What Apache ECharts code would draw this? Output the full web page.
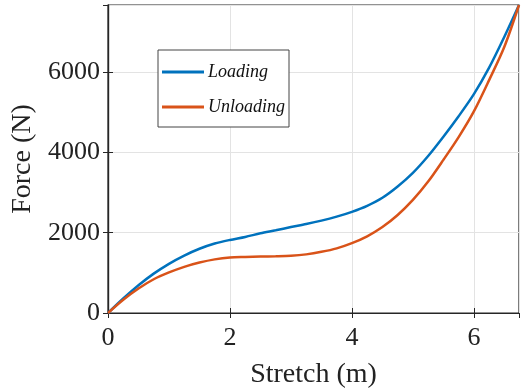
<!DOCTYPE html>
<html>
<head>
<meta charset="utf-8">
<script src="https://cdn.jsdelivr.net/npm/echarts@6/dist/echarts.min.js"></script>
<style>
  html, body { margin: 0; padding: 0; background: #fff; }
  #chart { width: 521px; height: 389px; }
</style>
</head>
<body>
<div id="chart"></div>
<script>
// stretch values (m)
var stretch = [0, 0.25, 0.5, 0.75, 1, 1.25, 1.5, 1.75, 2, 2.25, 2.5, 2.75, 3, 3.25, 3.5,
  3.75, 4, 4.25, 4.5, 4.75, 5, 5.25, 5.5, 5.75, 6, 6.25, 6.5, 6.74];
// force readings (N)
var loading = [0, 360, 690, 980, 1225, 1430, 1600, 1730, 1820, 1895, 1985, 2060, 2140, 2215, 2300,
  2400, 2520, 2670, 2870, 3150, 3490, 3910, 4390, 4900, 5450, 6110, 6880, 7670];
var unloading = [0, 330, 610, 840, 1010, 1150, 1256, 1335, 1382, 1395, 1405, 1412, 1425, 1460, 1523,
  1610, 1740, 1910, 2140, 2440, 2815, 3272, 3813, 4380, 5020, 5800, 6630, 7670];

var xTicks = { min: 0, max: 6.74, step: 2 };
var yTicks = { min: 0, max: 7670, step: 2000 };

var axisColor = "#262626";
var serif = "Liberation Serif";

function pairs(xs, ys) {
  return xs.map(function (x, i) { return [x, ys[i]]; });
}

var myChart = echarts.init(document.getElementById("chart"), null, { renderer: "canvas" });

var option = {
  animation: false,
  grid: {
    left: 108, right: 2, top: 5, bottom: 76,
    outerBoundsMode: "none",
    show: true, borderColor: axisColor, borderWidth: 1.2
  },
  legend: {
    orient: "vertical",
    left: 158,
    top: 50,
    padding: [13, 4, 11, 4],
    itemGap: 17,
    itemWidth: 42,
    itemHeight: 3,
    icon: "rect",
    borderColor: "#444",
    borderWidth: 1,
    backgroundColor: "#fff",
    textStyle: { fontFamily: serif, fontStyle: "italic", fontSize: 18, color: "#111", padding: [0, 0, 0, -1] },
    data: ["Loading", "Unloading"]
  },
  xAxis: [
    {
      type: "value",
      min: xTicks.min,
      max: xTicks.max,
      interval: xTicks.step,
      name: "Stretch (m)",
      nameLocation: "middle",
      nameGap: 48,
      nameTextStyle: { fontFamily: serif, fontSize: 28, color: "#222" },
      axisLine: { show: true, lineStyle: { color: axisColor, width: 1.2 } },
      axisTick: { show: true, inside: true, length: 5, lineStyle: { color: axisColor } },
      axisLabel: { fontFamily: serif, fontSize: 26, color: "#222", margin: 12, showMaxLabel: false },
      splitLine: { show: true, lineStyle: { color: "#e3e3e3", width: 1 } }
    },
    {
      type: "value",
      position: "top",
      min: xTicks.min,
      max: xTicks.max,
      interval: xTicks.step,
      axisLine: { show: true, lineStyle: { color: axisColor, width: 1.2 } },
      axisTick: { show: true, inside: true, length: 5, lineStyle: { color: axisColor } },
      axisLabel: { show: false },
      splitLine: { show: false }
    }
  ],
  yAxis: [
    {
      type: "value",
      min: yTicks.min,
      max: yTicks.max,
      interval: yTicks.step,
      name: "Force (N)",
      nameLocation: "middle",
      nameGap: 63,
      nameTextStyle: { fontFamily: serif, fontSize: 28, color: "#222" },
      axisLine: { show: true, lineStyle: { color: axisColor, width: 1.2 } },
      axisTick: { show: true, inside: true, length: 5, lineStyle: { color: axisColor } },
      axisLabel: {
        fontFamily: serif, fontSize: 26, color: "#222", margin: 8, showMaxLabel: false,
        formatter: function (v) { return String(v); }
      },
      splitLine: { show: true, lineStyle: { color: "#e3e3e3", width: 1 } }
    },
    {
      type: "value",
      position: "right",
      min: yTicks.min,
      max: yTicks.max,
      interval: yTicks.step,
      axisLine: { show: true, lineStyle: { color: axisColor, width: 1.2 } },
      axisTick: { show: true, inside: true, length: 5, lineStyle: { color: axisColor } },
      axisLabel: { show: false },
      splitLine: { show: false }
    }
  ],
  series: [
    {
      name: "Loading",
      type: "line",
      smooth: 0.3,
      symbol: "none",
      data: pairs(stretch, loading),
      lineStyle: { color: "#0072BD", width: 2.5 },
      itemStyle: { color: "#0072BD" }
    },
    {
      name: "Unloading",
      type: "line",
      smooth: 0.3,
      symbol: "none",
      data: pairs(stretch, unloading),
      lineStyle: { color: "#D95319", width: 2.5 },
      itemStyle: { color: "#D95319" }
    }
  ]
};

myChart.setOption(option);
</script>
</body>
</html>
